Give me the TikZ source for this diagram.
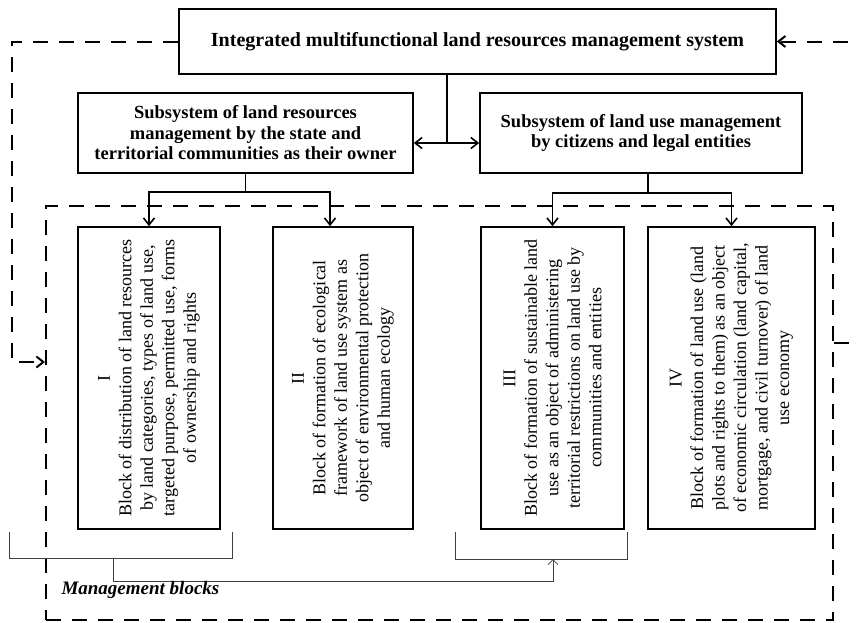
\documentclass[tikz,border=0pt]{standalone}
\usepackage{fontspec}
\setmainfont{Liberation Serif}
\usetikzlibrary{arrows.meta}

\begin{document}
\begin{tikzpicture}[x=1pt,y=-1pt,>={Straight Barb[length=7pt,width=11pt]},
    box/.style={draw,line width=1.6pt,align=center,inner sep=0pt},
    head/.style={box,font=\bfseries\fontsize{18.5}{20.5}\selectfont},
    block/.style={box,rotate=90,minimum width=302,font=\fontsize{18}{21.5}\selectfont},
    link/.style={line width=1.6pt},
    dashlink/.style={line width=2pt,dash pattern=on 15pt off 11pt},
    brace/.style={line width=0.8pt,black!75}]
    \useasboundingbox (0,0) rectangle (858,622);
    \clip (0,0) rectangle (858,622);
    \node[head,minimum width=597,minimum height=65,font=\bfseries\fontsize{20}{22}\selectfont] (top) at (477.5,41.5)
        {Integrated multifunctional land resources management system};
    \node[head,minimum width=335,minimum height=80] (lsub) at (245.5,133)
        {Subsystem of land resources\\management by the state and\\territorial communities as their owner};
    \node[head,minimum width=322,minimum height=80] (rsub) at (641,133)
        {Subsystem of land use management\\by citizens and legal entities};
    \node[draw,dashlink,minimum width=787,minimum height=414,anchor=north west] (frame) at (45,205) {};
    \node[block,minimum height=142] (b1) at (149,378)
        {I\\Block of distribution of land resources\\by land categories, types of land use,\\targeted purpose, permitted use, forms\\of ownership and rights};
    \node[block,minimum height=140] (b2) at (343,378)
        {II\\Block of formation of ecological\\framework of land use system as\\object of environmental protection\\and human ecology};
    \node[block,minimum height=143] (b3) at (552.5,378)
        {III\\Block of formation of sustainable land\\use as an object of administering\\territorial restrictions on land use by\\communities and entities};
    \node[block,minimum height=167] (b4) at (731.5,378)
        {IV\\Block of formation of land use (land\\plots and rights to them) as an object\\of economic circulation (land capital,\\mortgage, and civil turnover) of land\\use economy};
    \coordinate (mid) at (447,143);
    \draw[link] (top.south -| mid) -- (mid);
    \draw[link,<->] (lsub.east |- mid) -- (rsub.west |- mid);
    \coordinate (lsplit) at (245.5,192);
    \draw[link] (lsub.south) -- (lsplit);
    \draw[link,->] (lsplit) -| (b1.east);
    \draw[link,->] (lsplit) -| ([xshift=-13pt]b2.east);
    \coordinate (rsplit) at (648,193);
    \draw[link] (rsub.south -| rsplit) -- (rsplit);
    \draw[link,->] (rsplit) -| (b3.east);
    \draw[link,->] (rsplit) -| (b4.east);
    \coordinate (lturn) at (12,362);
    \draw[dashlink,->] (top.west) -| (lturn) -- (frame.west |- lturn);
    \coordinate (rturn) at (872,343);
    \draw[dashlink,->] (frame.east |- rturn) -- (rturn) |- (top.east);
    \draw[brace] (9,532) |- (232,558) -- (232,532);
    \draw[brace] (455,532) |- (627,559) -- (627,532);
    \coordinate (lbr) at (113,558);
    \coordinate (rbr) at (553,559);
    \draw[brace,-{Straight Barb[length=5pt,width=10pt]}] (lbr) -- ++(0,23) -| (rbr);
    \node[font=\bfseries\itshape\fontsize{19}{21}\selectfont,anchor=west] (mlabel) at (58,590) {Management blocks};
\end{tikzpicture}
\end{document}
